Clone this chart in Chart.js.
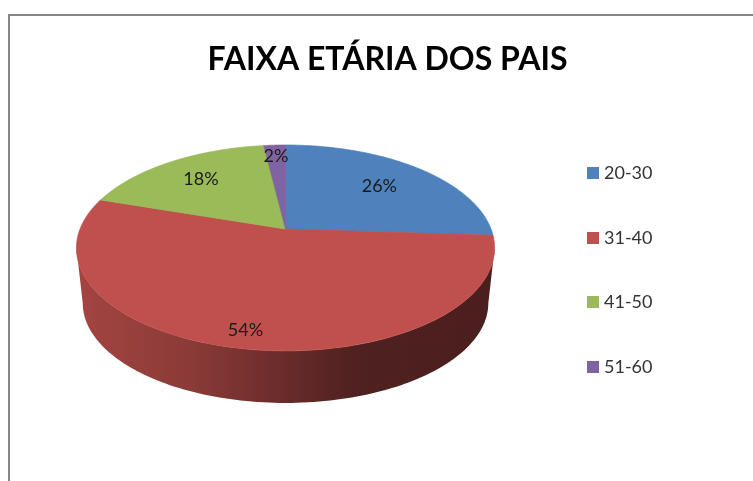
<!DOCTYPE html>
<html>
<head>
<meta charset="utf-8">
<title>Faixa etária dos pais</title>
<script src="https://cdn.jsdelivr.net/npm/chart.js@4"></script>
<style>
    html, body { margin: 0; padding: 0; background: #fff; overflow: hidden; }
    #frame { position: absolute; left: 8px; top: 14px; width: 760px; height: 480px; border: 2px solid #868686; }
    #chart { position: absolute; left: 0; top: 0; filter: blur(0.4px); }
</style>
</head>
<body>
<div id="frame"></div>
<canvas id="chart" width="753" height="481"></canvas>
<script>
const categories = ['20-30', '31-40', '41-50', '51-60'];
const percentages = [26, 54, 18, 2];
const sliceColors = ['#4F81BD', '#C0504D', '#9BBB59', '#8064A2'];

// how far along the radius each percentage label sits
const labelRadii = [0.68, 0.875, 0.71, 0.85];

// 3D look of the pie
const TILT = { yScale: 0.484, perspective: -0.184, depth: 55.7, bottomScale: 0.97, shiftX: -43, shiftY: -41, frontFrom: 0.185 };
const WALL_STOPS = [[0, 0.85], [0.27, 0.72], [0.52, 0.53], [0.67, 0.41], [1, 0.39]];

// Project a point of the flat pie onto the tilted one
function project(arc, angle, r = 1) {
    const u = Math.cos(angle) * r;
    const v = Math.sin(angle) * r;
    const w = 1 + TILT.perspective * v;
    return {
        x: arc.x + TILT.shiftX + arc.outerRadius * u / w,
        y: arc.y + TILT.shiftY + arc.outerRadius * TILT.yScale * v / w
    };
}

function projectBottom(arc, angle) {
    const p = project(arc, angle);
    const ax = arc.x + TILT.shiftX;
    const ay = arc.y + TILT.shiftY;
    return {
        x: ax + TILT.bottomScale * (p.x - ax),
        y: ay + TILT.depth + TILT.bottomScale * (p.y - ay)
    };
}

function shade(hex, f) {
    const n = parseInt(hex.slice(1), 16);
    const c = [n >> 16, (n >> 8) & 255, n & 255].map(x => Math.round(x * f));
    return `rgb(${c[0]},${c[1]},${c[2]})`;
}

function drawWall(ctx, arc, color) {
    const frontStart = Math.asin(TILT.frontFrom);
    const frontEnd = Math.PI - frontStart;
    const start = Math.max(arc.startAngle, frontStart);
    const end = Math.min(arc.endAngle, frontEnd);
    if (end <= start) return;

    const left = projectBottom(arc, frontEnd).x;
    const right = projectBottom(arc, frontStart).x;
    const gradient = ctx.createLinearGradient(left, 0, right, 0);
    WALL_STOPS.forEach(([pos, f]) => gradient.addColorStop(pos, shade(color, f)));

    const steps = 120;
    ctx.beginPath();
    for (let i = 0; i <= steps; i++) {
        const p = project(arc, start + (end - start) * i / steps);
        ctx.lineTo(p.x, p.y);
    }
    for (let i = steps; i >= 0; i--) {
        const p = projectBottom(arc, start + (end - start) * i / steps);
        ctx.lineTo(p.x, p.y);
    }
    ctx.closePath();
    ctx.fillStyle = gradient;
    ctx.fill();
}

function drawTop(ctx, arc, color) {
    const steps = 120;
    const centre = project(arc, 0, 0);
    ctx.beginPath();
    ctx.moveTo(centre.x, centre.y);
    for (let i = 0; i <= steps; i++) {
        const p = project(arc, arc.startAngle + (arc.endAngle - arc.startAngle) * i / steps);
        ctx.lineTo(p.x, p.y);
    }
    ctx.closePath();
    ctx.fillStyle = color;
    ctx.fill();
    // thin stroke so no light seam shows between slices
    ctx.strokeStyle = color;
    ctx.lineWidth = 0.7;
    ctx.lineJoin = 'round';
    ctx.stroke();
}

// Legend swatches as small canvases, so the text can sit closer to them
function makeSwatch(color) {
    const swatch = document.createElement('canvas');
    swatch.width = 12;
    swatch.height = 12;
    const c = swatch.getContext('2d');
    c.fillStyle = color;
    c.fillRect(0, 0, 12, 12);
    return swatch;
}

// Replaces the flat drawing of the arcs with the tilted pie
const tiltedPie = {
    id: 'tiltedPie',
    beforeDatasetsDraw(chart) {
        const ctx = chart.ctx;
        const arcs = chart.getDatasetMeta(0).data;
        ctx.save();
        arcs.forEach((arc, i) => drawWall(ctx, arc, sliceColors[i]));
        arcs.forEach((arc, i) => drawTop(ctx, arc, sliceColors[i]));
        ctx.font = '18px Lato';
        ctx.fillStyle = '#1a1a1a';
        ctx.textAlign = 'center';
        ctx.textBaseline = 'middle';
        arcs.forEach((arc, i) => {
            const p = project(arc, (arc.startAngle + arc.endAngle) / 2, labelRadii[i]);
            ctx.fillText(`${percentages[i]}%`, p.x, p.y);
        });
        ctx.restore();
        return false;
    }
};

new Chart(document.getElementById('chart').getContext('2d'), {
    type: 'pie',
    data: {
        labels: categories,
        datasets: [{
            data: percentages,
            backgroundColor: sliceColors,
            borderWidth: 0
        }]
    },
    options: {
        responsive: false,
        animation: false,
        radius: 205.5,
        layout: { padding: { left: 112.5, right: 90.5, top: 0, bottom: 41 } },
        plugins: {
            title: {
                display: true,
                text: 'FAIXA ETÁRIA DOS PAIS',
                color: '#000',
                font: { family: 'Lato', size: 32, weight: 'bold' },
                padding: { top: 40, bottom: 21.6 }
            },
            legend: {
                position: 'right',
                fullSize: false,
                labels: {
                    usePointStyle: true,
                    pointStyleWidth: 4,
                    padding: 46.5,
                    color: '#333',
                    font: { family: 'Lato', size: 18 },
                    generateLabels: () => categories.map((text, i) => ({
                        text,
                        index: i,
                        hidden: false,
                        lineWidth: 0,
                        fontColor: '#333',
                        pointStyle: makeSwatch(sliceColors[i])
                    }))
                }
            },
            tooltip: { enabled: false }
        }
    },
    plugins: [tiltedPie]
});
</script>
</body>
</html>
